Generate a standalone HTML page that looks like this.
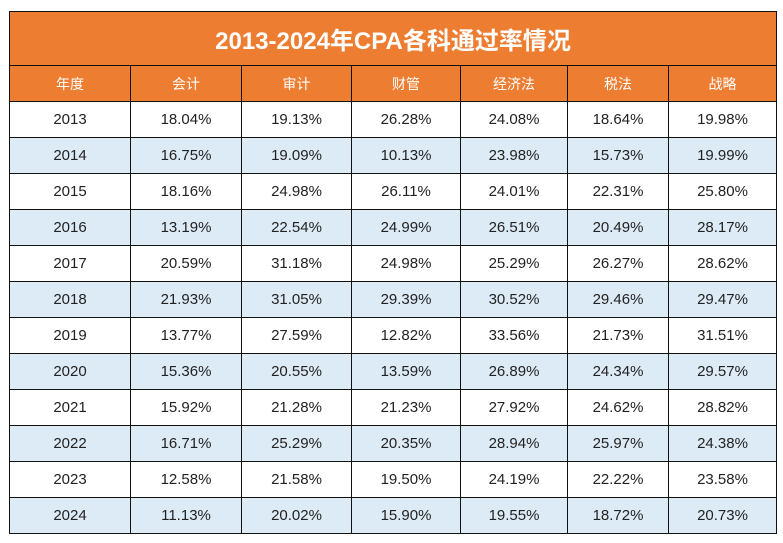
<!DOCTYPE html>
<html><head><meta charset="utf-8"><style>
html,body{margin:0;padding:0;background:#fff;width:783px;height:543px;overflow:hidden}
table{position:absolute;left:9px;top:11px;border-collapse:collapse;font-family:"Liberation Sans","Noto Sans CJK SC",sans-serif;table-layout:fixed}
td{border:1.5px solid #111;text-align:center;font-size:15px;color:#222;height:35px;padding:0}
.t td{background:#ED7D31;color:#fff;font-size:24px;font-weight:bold;height:53px}
.h td{background:#ED7D31;color:#fff;font-size:14px}
tr.b td{background:#DDEBF7}
</style></head><body>
<table>
<colgroup><col style="width:121px"><col style="width:111px"><col style="width:110px"><col style="width:109px"><col style="width:107px"><col style="width:101px"><col style="width:108px"></colgroup>
<tr class="t"><td colspan="7">2013-2024年CPA各科通过率情况</td></tr>
<tr class="h"><td>年度</td><td>会计</td><td>审计</td><td>财管</td><td>经济法</td><td>税法</td><td>战略</td></tr>
<tr><td>2013</td><td>18.04%</td><td>19.13%</td><td>26.28%</td><td>24.08%</td><td>18.64%</td><td>19.98%</td></tr>
<tr class="b"><td>2014</td><td>16.75%</td><td>19.09%</td><td>10.13%</td><td>23.98%</td><td>15.73%</td><td>19.99%</td></tr>
<tr><td>2015</td><td>18.16%</td><td>24.98%</td><td>26.11%</td><td>24.01%</td><td>22.31%</td><td>25.80%</td></tr>
<tr class="b"><td>2016</td><td>13.19%</td><td>22.54%</td><td>24.99%</td><td>26.51%</td><td>20.49%</td><td>28.17%</td></tr>
<tr><td>2017</td><td>20.59%</td><td>31.18%</td><td>24.98%</td><td>25.29%</td><td>26.27%</td><td>28.62%</td></tr>
<tr class="b"><td>2018</td><td>21.93%</td><td>31.05%</td><td>29.39%</td><td>30.52%</td><td>29.46%</td><td>29.47%</td></tr>
<tr><td>2019</td><td>13.77%</td><td>27.59%</td><td>12.82%</td><td>33.56%</td><td>21.73%</td><td>31.51%</td></tr>
<tr class="b"><td>2020</td><td>15.36%</td><td>20.55%</td><td>13.59%</td><td>26.89%</td><td>24.34%</td><td>29.57%</td></tr>
<tr><td>2021</td><td>15.92%</td><td>21.28%</td><td>21.23%</td><td>27.92%</td><td>24.62%</td><td>28.82%</td></tr>
<tr class="b"><td>2022</td><td>16.71%</td><td>25.29%</td><td>20.35%</td><td>28.94%</td><td>25.97%</td><td>24.38%</td></tr>
<tr><td>2023</td><td>12.58%</td><td>21.58%</td><td>19.50%</td><td>24.19%</td><td>22.22%</td><td>23.58%</td></tr>
<tr class="b"><td>2024</td><td>11.13%</td><td>20.02%</td><td>15.90%</td><td>19.55%</td><td>18.72%</td><td>20.73%</td></tr>
</table>
</body></html>
